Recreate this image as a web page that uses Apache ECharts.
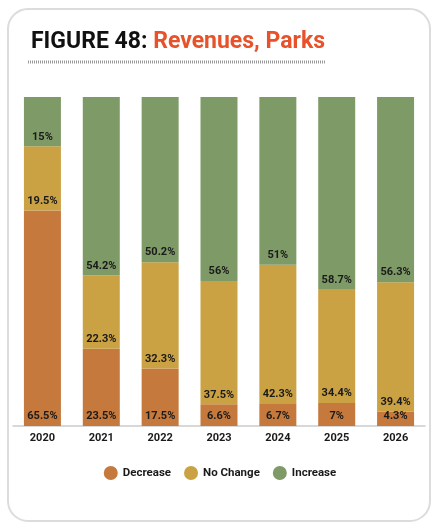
<!DOCTYPE html>
<html>
<head>
<meta charset="utf-8">
<script src="https://cdn.jsdelivr.net/npm/echarts@6/dist/echarts.min.js"></script>
<style>
  html, body { margin: 0; padding: 0; background: #fff; }
  #main { width: 440px; height: 532px; }
</style>
</head>
<body>
<div id="main"></div>
<script>
// 数据
let years = ['2020', '2021', '2022', '2023', '2024', '2025', '2026'];
let decrease = [65.5, 23.5, 17.5, 6.6, 6.7, 7, 4.3];
let noChange = [19.5, 22.3, 32.3, 37.5, 42.3, 34.4, 39.4];
let increase = [15, 54.2, 50.2, 56, 51, 58.7, 56.3];

let myChart = echarts.init(document.getElementById('main'));

// 柱子上的文字
let barLabel = {
    show: true,
    position: 'insideBottom',
    distance: 4,
    color: '#1a1a1a',
    fontSize: 11,
    fontWeight: 'bold',
    fontFamily: 'Roboto',
    formatter: p => p.value + '%'
};

function makeSeries(name, data, color) {
    return {
        name: name,
        type: 'bar',
        stack: 'total',
        barWidth: 37,
        data: data,
        itemStyle: { color: color },
        label: barLabel
    };
}

let option = {
    backgroundColor: '#fff',
    animation: false,
    title: {
        text: '{a|FIGURE 48: }{b|Revenues, Parks}',
        left: 26,
        top: 26,
        textStyle: {
            rich: {
                a: { color: '#111', fontSize: 23, fontWeight: 'bold', fontFamily: 'Roboto' },
                b: { color: '#e8522a', fontSize: 23, fontWeight: 'bold', fontFamily: 'Roboto' }
            }
        }
    },
    graphic: [
        {
            type: 'rect',
            shape: { x: 8, y: 9, width: 422, height: 512, r: 20 },
            style: { fill: 'none', stroke: '#dcdcdc', lineWidth: 2 },
            silent: true
        },
        {
            type: 'line',
            shape: { x1: 28, y1: 62, x2: 325, y2: 62 },
            style: { stroke: '#9a9a9a', lineWidth: 3, lineDash: [1, 1] },
            silent: true
        }
    ],
    legend: {
        bottom: 47,
        left: 'center',
        icon: 'circle',
        itemWidth: 14,
        itemHeight: 14,
        itemGap: 13,
        textStyle: { color: '#1a1a1a', fontSize: 11.5, fontWeight: 'bold', fontFamily: 'Roboto' },
        data: ['Decrease', 'No Change', 'Increase']
    },
    grid: { left: 13, right: 15, top: 97, bottom: 106 },
    xAxis: {
        type: 'category',
        data: years,
        axisLine: { lineStyle: { color: '#cccccc', width: 1.5 } },
        axisTick: { show: false },
        axisLabel: { color: '#1a1a1a', fontSize: 11, fontWeight: 'bold', fontFamily: 'Roboto', margin: 7 }
    },
    yAxis: {
        type: 'value',
        min: 0,
        max: 100,
        show: false
    },
    series: [
        makeSeries('Decrease', decrease, '#c5793c'),
        makeSeries('No Change', noChange, '#cba243'),
        makeSeries('Increase', increase, '#7e9a67')
    ]
};
myChart.setOption(option);
</script>
</body>
</html>
